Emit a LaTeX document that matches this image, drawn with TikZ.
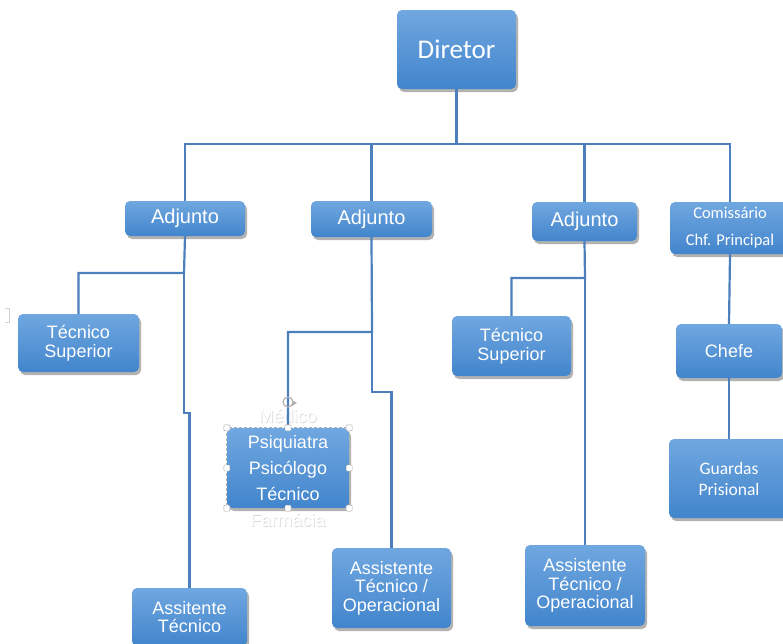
\documentclass[tikz,border=0pt]{standalone}
\usepackage{fontspec}
\setmainfont{Liberation Sans}
\newfontfamily\calfont{Carlito}
\usetikzlibrary{shadows}

\definecolor{boxtop}{RGB}{112,167,224}
\definecolor{boxbot}{RGB}{66,133,204}
\definecolor{linkblue}{RGB}{76,128,189}

\tikzset{
  orgbox/.style={rectangle, rounded corners=5pt, top color=boxtop, bottom color=boxbot,
    text=white, align=center, inner sep=0pt,
    drop shadow={shadow xshift=2pt, shadow yshift=-3pt, opacity=0.3, fill=black}},
  link/.style={draw=linkblue, line width=2.2pt},
  grip/.style={rectangle, draw=gray!70, fill=white, minimum size=6pt, inner sep=0pt, rounded corners=1pt},
}
\newcommand{\fs}[2]{\fontsize{#1}{#2}\selectfont}

\begin{document}
\begin{tikzpicture}[x=1pt,y=-1pt]
\useasboundingbox (0,0) rectangle (783,643);

% boxes
\node[orgbox, minimum width=119pt, minimum height=79pt, font=\calfont\fs{27}{32}] (diretor) at (456.5,49.5) {Diretor};
\node[orgbox, minimum width=120pt, minimum height=35pt, font=\fs{20}{24}] (adjA) at (185,218.5) {Adjunto};
\node[orgbox, minimum width=121pt, minimum height=36pt, font=\fs{20}{24}] (adjB) at (371.5,219) {Adjunto};
\node[orgbox, minimum width=105pt, minimum height=39pt, font=\fs{20}{24}] (adjC) at (584.5,221.5) {Adjunto};
\node[orgbox, minimum width=120pt, minimum height=52pt, font=\calfont\fs{16.5}{27}] (comis) at (730,228) {Comissário\\Chf. Principal};

\node[orgbox, minimum width=121pt, minimum height=58pt, font=\fs{18}{19.5}] (tecA) at (78.5,343) {Técnico\\Superior};
\node[orgbox, minimum width=119pt, minimum height=60pt, font=\fs{18}{19.5}] (tecB) at (511.5,346) {Técnico\\Superior};
\node[orgbox, minimum width=106pt, minimum height=54pt, font=\fs{18}{22}] (chefe) at (729,351) {Chefe};
\node[orgbox, minimum width=120pt, minimum height=79pt, font=\calfont\fs{17.5}{21}] (guardas) at (729,478.5) {Guardas\\Prisional};

% Medico box: soft halo first, box over it, white text last
\node[text=gray!30, align=center, font=\fs{18}{26}] (medglow) at (288.7,468.7)
  {Médico\\Psiquiatra\\Psicólogo\\Técnico\\Farmácia};
\node[orgbox, minimum width=122pt, minimum height=80pt] (medico) at (288,468) {};
\node[text=white, align=center, font=\fs{18}{26}] (medtxt) at (medico.center)
  {Médico\\Psiquiatra\\Psicólogo\\Técnico\\Farmácia};

\node[orgbox, minimum width=115pt, minimum height=58pt, font=\fs{18}{18.5}] (assA) at (189.5,617) {Assitente\\Técnico};
\node[orgbox, minimum width=119pt, minimum height=80pt, font=\fs{18}{18.5}] (assB) at (391.5,588) {Assistente\\Técnico /\\Operacional};
\node[orgbox, minimum width=120pt, minimum height=81pt, font=\fs{18}{18.5}] (assC) at (585,585.5) {Assistente\\Técnico /\\Operacional};

% connectors
\coordinate (bus) at (456.5,144);
\draw[link] (diretor.south) -- (bus);
\draw[link] (adjA.north) |- (bus) -| (comis.north);
\draw[link] (adjB.north) -- (adjB.north |- bus);
\draw[link] (adjC.north) -- (adjC.north |- bus);

\coordinate (jA) at (184,273);
\coordinate (kA) at (184,413);
\draw[link] (adjA.south) -- (jA) -| (tecA.north);
\draw[link] (jA) -- (kA) -| (assA.north);

\coordinate (jB) at (372,332);
\coordinate (kB) at (372,392);
\draw[link] (adjB.south) -- (jB) -| (medico.north);
\draw[link] (jB) -- (kB) -| (assB.north);

\coordinate (jC) at (585,278);
\coordinate (kC) at (585,393);
\draw[link] (adjC.south) -- (jC) -| (tecB.north);
\draw[link] (jC) -- (kC) -| (assC.north);

\draw[link] (comis.south) -- (chefe.north);
\draw[link] (chefe.south) -- (guardas.north);

% selection frame round the Medico box
\draw[gray!60, densely dashed, line width=0.8pt] (medico.north west) rectangle (medico.south east);
\foreach \a in {north west,north,north east,east,south east,south,south west,west}
  \node[grip] at (medico.\a) {};
\draw[gray!60, line width=1.2pt] (288,402) circle (5pt);
\fill[gray!60] (292,400) -- (297,403) -- (292,406) -- cycle;

% stray mark at the left edge
\draw[gray!35, line width=0.8pt] (5,308) -- (9,308) -- (9,322) -- (5,322);
\end{tikzpicture}
\end{document}
